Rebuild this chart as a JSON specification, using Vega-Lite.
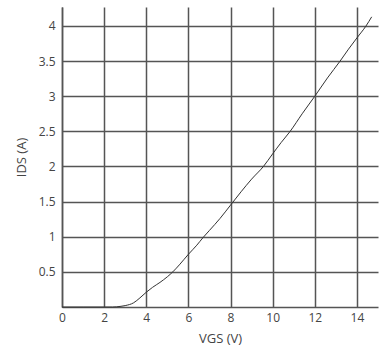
{
  "$schema": "https://vega.github.io/schema/vega-lite/v6.json",
  "width": 316,
  "height": 300,
  "autosize": "none",
  "padding": {"left": 62, "top": 7, "right": 5, "bottom": 51},
  "background": "white",
  "config": {
    "view": {"stroke": null},
    "axis": {
      "labelFont": "Open Sans",
      "titleFont": "Open Sans",
      "labelFontSize": 12,
      "titleFontSize": 13,
      "labelColor": "#444",
      "titleColor": "#444",
      "titleFontWeight": "normal",
      "gridColor": "#555",
      "gridWidth": 1.5,
      "gridOpacity": 1,
      "domainColor": "#555",
      "domainWidth": 1.5,
      "ticks": false,
      "labelFlush": false
    }
  },
  "data": {
    "values": [
      {"vgs": 0, "ids": 0},
      {"vgs": 1, "ids": 0},
      {"vgs": 2, "ids": 0},
      {"vgs": 2.4, "ids": 0},
      {"vgs": 2.8, "ids": 0.01},
      {"vgs": 3.0, "ids": 0.02},
      {"vgs": 3.4, "ids": 0.06},
      {"vgs": 3.7, "ids": 0.13},
      {"vgs": 4.0, "ids": 0.21},
      {"vgs": 4.3, "ids": 0.28},
      {"vgs": 4.65, "ids": 0.35},
      {"vgs": 5.0, "ids": 0.43},
      {"vgs": 5.26, "ids": 0.5},
      {"vgs": 5.6, "ids": 0.61},
      {"vgs": 6.0, "ids": 0.75},
      {"vgs": 6.4, "ids": 0.88},
      {"vgs": 6.7, "ids": 0.99},
      {"vgs": 7.0, "ids": 1.09},
      {"vgs": 7.5, "ids": 1.26},
      {"vgs": 8.0, "ids": 1.45},
      {"vgs": 8.5, "ids": 1.64},
      {"vgs": 9.0, "ids": 1.82},
      {"vgs": 9.56, "ids": 2.0},
      {"vgs": 10.0, "ids": 2.18},
      {"vgs": 10.4, "ids": 2.34},
      {"vgs": 10.83, "ids": 2.5},
      {"vgs": 11.4, "ids": 2.75},
      {"vgs": 12.0, "ids": 3.0},
      {"vgs": 12.6, "ids": 3.26},
      {"vgs": 13.2, "ids": 3.5},
      {"vgs": 13.6, "ids": 3.67},
      {"vgs": 14.0, "ids": 3.83},
      {"vgs": 14.43, "ids": 4.0},
      {"vgs": 14.7, "ids": 4.13}
    ]
  },
  "mark": {"type": "line", "color": "#333", "strokeWidth": 1, "interpolate": "monotone"},
  "encoding": {
    "x": {
      "field": "vgs",
      "type": "quantitative",
      "scale": {"domain": [0, 15], "nice": false, "zero": false},
      "axis": {"values": [0, 2, 4, 6, 8, 10, 12, 14], "format": "~g", "labelPadding": 5, "title": "VGS (V)", "titlePadding": 9}
    },
    "y": {
      "field": "ids",
      "type": "quantitative",
      "scale": {"domain": [0, 4.27], "nice": false},
      "axis": {"values": [0.5, 1, 1.5, 2, 2.5, 3, 3.5, 4], "format": "~g", "labelPadding": 7, "title": "IDS (A)", "titlePadding": 10}
    }
  }
}
